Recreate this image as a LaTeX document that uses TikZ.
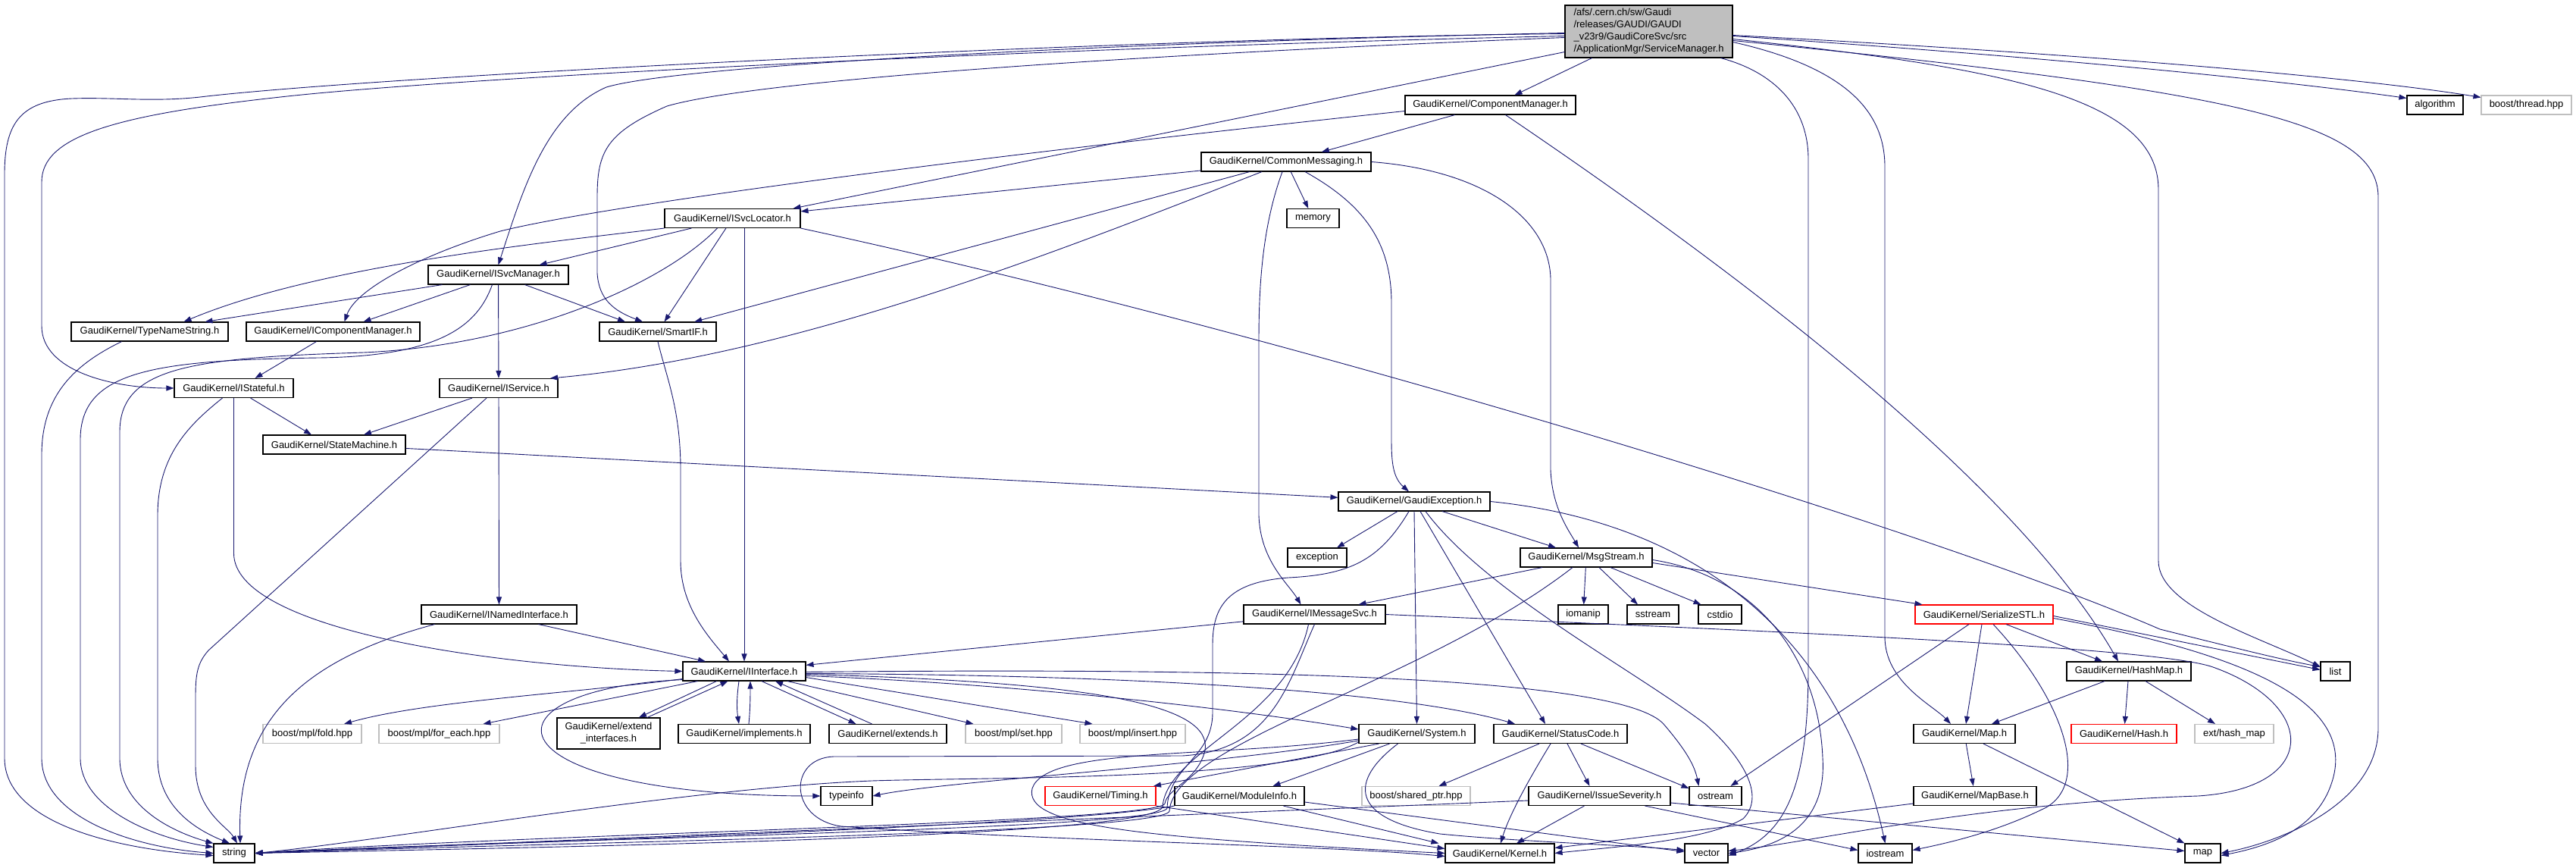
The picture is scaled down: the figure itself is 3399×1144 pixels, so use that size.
\documentclass[tikz,border=0pt]{standalone}
\usepackage{fontspec}
\setmainfont{Liberation Sans}
\usepackage{tikz}
\usetikzlibrary{arrows.meta}
\definecolor{edgeblue}{RGB}{25, 25, 112}
\definecolor{sysgray}{RGB}{191, 191, 191}
\definecolor{rootgray}{RGB}{191, 191, 191}

\begin{document}
\begin{tikzpicture}[
        x=1pt, y=-1pt,
        file/.style={rectangle, draw=black, fill=white, line width=1.1pt, inner sep=0pt, minimum height=25pt, font=\fontsize{13}{16}\selectfont},
        sysfile/.style={file, draw=sysgray},
        trunc/.style={file, draw=red},
        rootfile/.style={file, fill=rootgray, align=left, minimum height=69pt},
        dep/.style={draw=edgeblue, line width=0.9pt, -{Triangle[length=10pt,width=7pt]}}
    ]
        \useasboundingbox (0,0) rectangle (3399,1144);
        \fill[white] (0,0) rectangle (3399,1144);

        % files
        \node[rootfile, minimum width=221pt] (root) at (2175.5,41.5) {/afs/.cern.ch/sw/Gaudi\\/releases/GAUDI/GAUDI\\\_v23r9/GaudiCoreSvc/src\\/ApplicationMgr/ServiceManager.h};
        \node[file, minimum width=225pt] (compmgr) at (1966.5,138.5) {GaudiKernel/ComponentManager.h};
        \node[file, minimum width=74pt] (algorithm) at (3213,138.5) {algorithm};
        \node[sysfile, minimum width=119pt] (thread) at (3333.5,138.5) {boost/thread.hpp};
        \node[file, minimum width=224pt] (commsg) at (1697,213.5) {GaudiKernel/CommonMessaging.h};
        \node[file, minimum width=179pt] (isvcloc) at (966.5,288) {GaudiKernel/ISvcLocator.h};
        \node[file, minimum width=69pt] (memory) at (1732.5,288) {memory};
        \node[file, minimum width=185pt] (isvcmgr) at (657.5,362.5) {GaudiKernel/ISvcManager.h};
        \node[file, minimum width=207pt] (typename) at (197.5,437.5) {GaudiKernel/TypeNameString.h};
        \node[file, minimum width=229pt] (icompmgr) at (439.5,437.5) {GaudiKernel/IComponentManager.h};
        \node[file, minimum width=154pt] (smartif) at (868,437.5) {GaudiKernel/SmartIF.h};
        \node[file, minimum width=157pt] (istateful) at (308.5,512) {GaudiKernel/IStateful.h};
        \node[file, minimum width=156pt] (iservice) at (658,512) {GaudiKernel/IService.h};
        \node[file, minimum width=188pt] (statemachine) at (441,586.5) {GaudiKernel/StateMachine.h};
        \node[file, minimum width=200pt] (gaudiexc) at (1866,661.5) {GaudiKernel/GaudiException.h};
        \node[file, minimum width=78pt] (exception) at (1738,735.5) {exception};
        \node[file, minimum width=174pt] (msgstream) at (2093,735.5) {GaudiKernel/MsgStream.h};
        \node[file, minimum width=205pt] (inamed) at (658.5,810.5) {GaudiKernel/INamedInterface.h};
        \node[file, minimum width=187pt] (imsgsvc) at (1734.5,810.5) {GaudiKernel/IMessageSvc.h};
        \node[file, minimum width=66pt] (iomanip) at (2089,810.5) {iomanip};
        \node[file, minimum width=68pt] (sstream) at (2181,810.5) {sstream};
        \node[file, minimum width=57pt] (cstdio) at (2269.5,810.5) {cstdio};
        \node[trunc, minimum width=182pt] (serialize) at (2618,810.5) {GaudiKernel/SerializeSTL.h};
        \node[file, minimum width=162pt] (iinterface) at (982,885.5) {GaudiKernel/IInterface.h};
        \node[file, minimum width=164pt] (hashmap) at (2809,885.5) {GaudiKernel/HashMap.h};
        \node[file, minimum width=39pt] (list) at (3081.5,885.5) {list};
        \node[sysfile, minimum width=130pt] (fold) at (412,968) {boost/mpl/fold.hpp};
        \node[sysfile, minimum width=159pt] (foreach) at (579.5,968) {boost/mpl/for\_each.hpp};
        \node[file, minimum width=136pt, minimum height=41pt, align=center] (extint) at (803,967.5) {GaudiKernel/extend\\\_interfaces.h};
        \node[file, minimum width=174pt] (implements) at (982,968) {GaudiKernel/implements.h};
        \node[file, minimum width=155pt] (extends) at (1171.5,968) {GaudiKernel/extends.h};
        \node[sysfile, minimum width=127pt] (mplset) at (1337.5,968) {boost/mpl/set.hpp};
        \node[sysfile, minimum width=139pt] (mplinsert) at (1494.5,968) {boost/mpl/insert.hpp};
        \node[file, minimum width=153pt] (system) at (1869.5,968) {GaudiKernel/System.h};
        \node[file, minimum width=176pt] (statuscode) at (2059,968) {GaudiKernel/StatusCode.h};
        \node[file, minimum width=134pt] (gkmap) at (2592,968) {GaudiKernel/Map.h};
        \node[trunc, minimum width=139pt] (hash) at (2802.5,968) {GaudiKernel/Hash.h};
        \node[sysfile, minimum width=104pt] (hashext) at (2948,968) {ext/hash\_map};
        \node[file, minimum width=68pt] (typeinfo) at (1117,1050) {typeinfo};
        \node[trunc, minimum width=146pt] (timing) at (1452,1050) {GaudiKernel/Timing.h};
        \node[file, minimum width=171pt] (moduleinfo) at (1635.5,1050) {GaudiKernel/ModuleInfo.h};
        \node[sysfile, minimum width=143pt] (sharedptr) at (1868.5,1050) {boost/shared\_ptr.hpp};
        \node[file, minimum width=187pt] (issue) at (2110.5,1050) {GaudiKernel/IssueSeverity.h};
        \node[file, minimum width=69pt] (ostream) at (2263.5,1050) {ostream};
        \node[file, minimum width=162pt] (mapbase) at (2606,1050) {GaudiKernel/MapBase.h};
        \node[file, minimum width=54pt] (string) at (309,1125.5) {string};
        \node[file, minimum width=144pt] (kernel) at (1979,1125.5) {GaudiKernel/Kernel.h};
        \node[file, minimum width=57pt] (vector) at (2251.5,1125.5) {vector};
        \node[file, minimum width=71pt] (iostream) at (2487.5,1125.5) {iostream};
        \node[file, minimum width=47pt] (stdmap) at (2906.5,1125.5) {map};

        % includes of the root file
        \draw[dep] ([yshift=-3pt]root.west) .. controls (1500,50) and (500,100) .. (264,128) .. controls (200,135) and (150,128) .. (95,130) .. controls (25,133) and (6,165) .. (6,230) -- (6,1000) .. controls (6,1085) and (150,1120) .. ([yshift=-3pt]string.west);
        \draw[dep] ([yshift=-6pt]root.west) .. controls (1400,62) and (600,102) .. (370,128) .. controls (150,152) and (55,180) .. (55,240) -- (55,430) .. controls (55,490) and (150,512) .. (istateful.west);
        \draw[dep] ([yshift=-2pt]root.west) .. controls (1500,55) and (900,85) .. (800,115) .. controls (720,150) and (690,250) .. (isvcmgr.north);
        \draw[dep] ([yshift=-8pt]root.west) .. controls (1500,72) and (1000,105) .. (880,140) .. controls (800,175) and (788,200) .. (788,260) -- (788,360) .. controls (790,395) and (810,410) .. ([xshift=-20pt]smartif.north);
        \draw[dep] ([yshift=8pt]root.south west) -- ([xshift=-10pt]isvcloc.north east);
        \draw[dep] ([xshift=-75pt]root.south) -- ([xshift=32pt]compmgr.north);
        \draw[dep] ([yshift=-6pt]root.east) .. controls (2700,75) and (3000,105) .. ([yshift=-4pt]algorithm.north west);
        \draw[dep] ([yshift=-5pt]root.east) .. controls (2700,68) and (3100,100) .. ([yshift=-3pt]thread.north west);
        \draw[dep] ([xshift=-16pt]root.south east) .. controls (2340,95) and (2386,140) .. (2386,210) -- (2386,880) .. controls (2386,1030) and (2360,1100) .. ([yshift=-3pt]vector.east);
        \draw[dep] ([yshift=-14pt]root.east) .. controls (2440,90) and (2487,150) .. (2487,220) -- (2487,840) .. controls (2487,900) and (2550,930) .. ([xshift=-18pt]gkmap.north);
        \draw[dep] ([yshift=-10pt]root.east) .. controls (2650,90) and (2848,130) .. (2848,250) -- (2848,740) .. controls (2848,800) and (2980,840) .. ([yshift=6pt]list.west);
        \draw[dep] ([yshift=-12pt]root.east) .. controls (2950,120) and (3138,160) .. (3138,260) -- (3138,960) .. controls (3138,1060) and (3010,1110) .. (stdmap.east);

        \draw[dep] ([yshift=-8pt]compmgr.west) .. controls (1300,205) and (800,270) .. (660,305) .. controls (560,335) and (470,380) .. ([xshift=15pt]icompmgr.north);
        \draw[dep] (compmgr) -- (commsg);
        \draw[dep] ([xshift=20pt]compmgr.south) .. controls (2250,330) and (2650,620) .. ([xshift=-14pt]hashmap.north);

        \draw[dep] (commsg) -- (isvcloc);
        \draw[dep] (commsg) -- (smartif);
        \draw[dep] ([xshift=-32pt]commsg.south) .. controls (1400,330) and (1050,470) .. ([xshift=68pt]iservice.north);
        \draw[dep] (commsg) -- (memory);
        \draw[dep] ([xshift=-5pt]commsg.south) .. controls (1665,300) and (1661,380) .. (1661,450) -- (1661,680) .. controls (1663,740) and (1700,770) .. ([xshift=-18pt]imsgsvc.north);
        \draw[dep] ([xshift=25pt]commsg.south) .. controls (1800,270) and (1836,320) .. (1836,400) -- (1836,580) .. controls (1836,610) and (1838,630) .. ([xshift=-7pt]gaudiexc.north);
        \draw[dep] (commsg.east) .. controls (1960,225) and (2046,290) .. (2046,370) -- (2046,620) .. controls (2048,670) and (2070,700) .. ([xshift=-10pt]msgstream.north);

        \draw[dep] (isvcloc.south west) .. controls (720,320) and (420,350) .. ([xshift=45pt]typename.north);
        \draw[dep] (isvcloc) -- (isvcmgr);
        \draw[dep] ([xshift=-20pt]isvcloc.south) .. controls (880,370) and (700,455) .. (480,465) .. controls (250,472) and (158,485) .. (158,570) -- (158,1000) .. controls (158,1065) and (230,1098) .. (string.north west);
        \draw[dep] (isvcloc) -- (smartif);
        \draw[dep] (isvcloc.south -| iinterface.north) -- (iinterface.north);
        \draw[dep] (isvcloc.south east) .. controls (1700,440) and (2550,700) .. (2850,830) .. controls (2950,855) and (3010,870) .. ([yshift=6pt]list.west);

        \draw[dep] ([xshift=-74pt]isvcmgr.south) -- ([xshift=73pt]typename.north);
        \draw[dep] ([xshift=-37pt]isvcmgr.south) -- ([xshift=40pt]icompmgr.north);
        \draw[dep] ([xshift=-8pt]isvcmgr.south) .. controls (630,430) and (580,470) .. (420,472) .. controls (200,475) and (106,490) .. (106,580) -- (106,1000) .. controls (106,1065) and (200,1105) .. ([yshift=8pt]string.west);
        \draw[dep] (isvcmgr) -- (iservice);
        \draw[dep] ([xshift=35pt]isvcmgr.south) -- ([xshift=-43pt]smartif.north);

        \draw[dep] ([xshift=-37pt]typename.south) .. controls (100,480) and (55,520) .. (55,600) -- (55,1000) .. controls (55,1080) and (180,1118) .. (string.west);
        \draw[dep] ([xshift=-22pt]icompmgr.south) -- ([xshift=28pt]istateful.north);
        \draw[dep] (smartif.south) .. controls (880,500) and (898,540) .. (898,620) -- (898,740) .. controls (898,800) and (935,840) .. ([xshift=-20pt]iinterface.north);

        \draw[dep] ([xshift=22pt]istateful.south) -- ([xshift=-30pt]statemachine.north);
        \draw[dep] ([xshift=-15pt]istateful.south) .. controls (250,560) and (208,600) .. (208,680) -- (208,1000) .. controls (208,1065) and (260,1095) .. ([xshift=-6pt]string.north);
        \draw[dep] (istateful.south) -- (308.5,730) .. controls (308.5,830) and (650,880) .. (iinterface.west);

        \draw[dep] ([xshift=-35pt]iservice.south) -- ([xshift=39pt]statemachine.north);
        \draw[dep] ([xshift=-16pt]iservice.south) -- (275,858) .. controls (260,875) and (258,890) .. (258,920) -- (258,1010) .. controls (258,1070) and (300,1090) .. ([xshift=4pt]string.north);
        \draw[dep] (iservice) -- (inamed);

        \draw[dep] (statemachine) -- (gaudiexc);

        \draw[dep] ([xshift=-85pt]inamed.south) .. controls (400,870) and (312,950) .. ([xshift=8pt]string.north);
        \draw[dep] ([xshift=52pt]inamed.south) -- ([xshift=-51pt]iinterface.north);

        % IInterface.h and its mixins
        \draw[dep] ([yshift=3pt]iinterface.south west) .. controls (750,915) and (560,925) .. ([xshift=42pt]fold.north);
        \draw[dep] ([xshift=20pt]iinterface.south west) -- ([xshift=58pt]foreach.north);
        \draw[dep] ([xshift=45pt]iinterface.south west) -- ([xshift=40pt]extint.north);
        \draw[dep] ([xshift=51pt]extint.north) -- ([xshift=60pt]iinterface.south west);
        \draw[dep] ([xshift=-7pt]iinterface.south) .. controls (972,920) and (972,935) .. ([xshift=-7pt]implements.north);
        \draw[dep] ([xshift=6pt]implements.north) .. controls (990,935) and (990,915) .. ([xshift=8pt]iinterface.south);
        \draw[dep] ([xshift=23pt]iinterface.south) -- ([xshift=-42pt]extends.north);
        \draw[dep] ([xshift=-21pt]extends.north) -- ([xshift=41pt]iinterface.south);
        \draw[dep] ([xshift=57pt]iinterface.south) -- ([xshift=-53pt]mplset.north);
        \draw[dep] ([yshift=5pt]iinterface.south east) -- ([xshift=-53pt]mplinsert.north);
        \draw[dep] ([yshift=-6pt]iinterface.east) .. controls (1300,900) and (1600,930) .. ([yshift=6pt]system.west);
        \draw[dep] ([yshift=-3pt]iinterface.east) .. controls (1500,890) and (1850,912) .. ([xshift=-60pt]statuscode.north);
        \draw[dep] ([yshift=-1pt]iinterface.east) .. controls (1700,880) and (2140,895) .. (2195,955) .. controls (2225,990) and (2236,1010) .. ([xshift=-22pt]ostream.north);
        \draw[dep] ([yshift=2pt]iinterface.south west) .. controls (620,910) and (640,1050) .. (typeinfo.west);
        \draw[dep] ([yshift=-4pt]iinterface.east) .. controls (1450,900) and (1600,930) .. (1590,990) .. controls (1580,1030) and (1540,1040) .. (1537,1060) .. controls (1530,1085) and (700,1100) .. (string.east);

        % GaudiException.h and MsgStream.h
        \draw[dep] ([xshift=-22pt]gaudiexc.south) -- ([xshift=26pt]exception.north);
        \draw[dep] ([xshift=37pt]gaudiexc.south) -- ([xshift=-40pt]msgstream.north);
        \draw[dep] (gaudiexc.south) -- (system.north);
        \draw[dep] ([xshift=8pt]gaudiexc.south) -- ([xshift=-20pt]statuscode.north);
        \draw[dep] ([xshift=15pt]gaudiexc.south) .. controls (1960,780) and (2150,880) .. (2250,955) .. controls (2300,1000) and (2330,1050) .. (2300,1080) .. controls (2250,1110) and (2120,1118) .. (kernel.east);
        \draw[dep] (gaudiexc.east) .. controls (2250,690) and (2430,850) .. (iostream.north);
        \draw[dep] ([xshift=-7pt]gaudiexc.south) .. controls (1820,740) and (1780,758) .. (1700,762) .. controls (1620,768) and (1600,800) .. (1600,850) -- (1600,940) .. controls (1600,1000) and (1542,1010) .. (1540,1066) .. controls (1532,1095) and (700,1106) .. (string.east);

        \draw[dep] ([xshift=-58pt]msgstream.south) -- ([xshift=58pt]imsgsvc.north);
        \draw[dep] (msgstream) -- (iomanip);
        \draw[dep] ([xshift=17pt]msgstream.south) -- ([xshift=-20pt]sstream.north);
        \draw[dep] ([xshift=32pt]msgstream.south) -- ([xshift=-25pt]cstdio.north);
        \draw[dep] ([yshift=-7pt]msgstream.east) -- ([xshift=10pt]serialize.north west);
        \draw[dep] ([yshift=-3pt]msgstream.east) .. controls (2320,760) and (2400,870) .. (2405,1000) .. controls (2410,1080) and (2360,1115) .. (vector.east);
        \draw[dep] ([xshift=-18pt]msgstream.south) .. controls (1880,900) and (1548,980) .. (1543,1070) .. controls (1535,1100) and (700,1112) .. (string.east);

        \draw[dep] (imsgsvc) -- (iinterface);
        \draw[dep] (imsgsvc.east) .. controls (2400,835) and (2850,855) .. (2920,880) .. controls (3060,930) and (3060,1040) .. (2900,1050) .. controls (2600,1060) and (2400,1110) .. ([yshift=3pt]vector.east);
        \draw[dep] (imsgsvc.south) .. controls (1700,900) and (1680,990) .. (1560,997) -- (1100,998) .. controls (1040,1000) and (1040,1080) .. (1110,1090) .. controls (1400,1110) and (1750,1115) .. ([yshift=-4pt]kernel.west);
        \draw[dep] ([xshift=-8pt]imsgsvc.south) .. controls (1700,950) and (1540,990) .. (1534,1064) .. controls (1528,1105) and (700,1118) .. (string.east);

        % System.h, StatusCode.h and below
        \draw[dep] ([yshift=-7pt]system.west) .. controls (1600,1000) and (1380,985) .. (1362,1040) .. controls (1350,1090) and (1500,1105) .. (kernel.west);
        \draw[dep] ([yshift=-9pt]system.west) .. controls (1600,1010) and (1250,1030) .. (typeinfo.east);
        \draw[dep] ([xshift=-50pt]system.south) -- ([xshift=70pt]timing.north);
        \draw[dep] ([xshift=-36pt]system.south) -- ([xshift=44pt]moduleinfo.north);
        \draw[dep] ([xshift=-25pt]system.south) .. controls (1780,1030) and (1780,1080) .. (1900,1100) .. controls (2000,1110) and (2150,1115) .. ([yshift=4pt]vector.west);
        \draw[dep] ([yshift=-11pt]system.west) .. controls (1700,1030) and (1300,1025) .. (1150,1030) .. controls (900,1040) and (500,1110) .. (string.east);

        \draw[dep] ([xshift=58pt]moduleinfo.south) -- ([xshift=-8pt]kernel.north west);
        \draw[dep] ([yshift=-8pt]moduleinfo.east) -- ([yshift=2pt]vector.west);
        \draw[dep] (moduleinfo.south west) .. controls (1400,1090) and (700,1110) .. (string.east);
        \draw[dep] (timing.south east) -- ([yshift=6pt]kernel.west);

        \draw[dep] ([xshift=-28pt]statuscode.south) -- ([xshift=30pt]sharedptr.north);
        \draw[dep] ([xshift=-13pt]statuscode.south) .. controls (2010,1040) and (1990,1080) .. ([xshift=1pt]kernel.north);
        \draw[dep] ([xshift=9pt]statuscode.south) -- ([xshift=-13pt]issue.north);
        \draw[dep] ([xshift=27pt]statuscode.south) -- ([yshift=-3pt]ostream.north west);

        \draw[dep] ([xshift=-20pt]issue.south) -- ([xshift=22pt]kernel.north);
        \draw[dep] ([yshift=-6pt]issue.west) -- (string.east);
        \draw[dep] ([xshift=60pt]issue.south) -- ([yshift=4pt]iostream.west);
        \draw[dep] ([yshift=-9pt]issue.east) -- ([yshift=3pt]stdmap.west);

        % SerializeSTL.h and the maps
        \draw[dep] ([xshift=-20pt]serialize.south) -- ([xshift=20pt]ostream.north);
        \draw[dep] ([xshift=-3pt]serialize.south) -- ([xshift=2pt]gkmap.north);
        \draw[dep] ([xshift=12pt]serialize.south) .. controls (2720,920) and (2760,1030) .. (2700,1065) .. controls (2640,1095) and (2580,1110) .. ([yshift=4pt]iostream.east);
        \draw[dep] ([xshift=29pt]serialize.south) -- ([xshift=-35pt]hashmap.north);
        \draw[dep] ([yshift=-2pt]serialize.east) -- ([yshift=2pt]list.west);
        \draw[dep] ([yshift=-5pt]serialize.east) .. controls (2950,860) and (3100,920) .. (3080,1020) .. controls (3065,1090) and (3000,1115) .. ([yshift=-3pt]stdmap.east);

        \draw[dep] ([xshift=-32pt]hashmap.south) -- ([xshift=36pt]gkmap.north);
        \draw[dep] (hashmap) -- (hash);
        \draw[dep] ([xshift=22pt]hashmap.south) -- ([xshift=-25pt]hashext.north);

        \draw[dep] (gkmap) -- (mapbase);
        \draw[dep] ([xshift=25pt]gkmap.south) -- (stdmap.north west);
        \draw[dep] ([yshift=-10pt]mapbase.west) -- ([yshift=7pt]kernel.east);
    \end{tikzpicture}
\end{document}
